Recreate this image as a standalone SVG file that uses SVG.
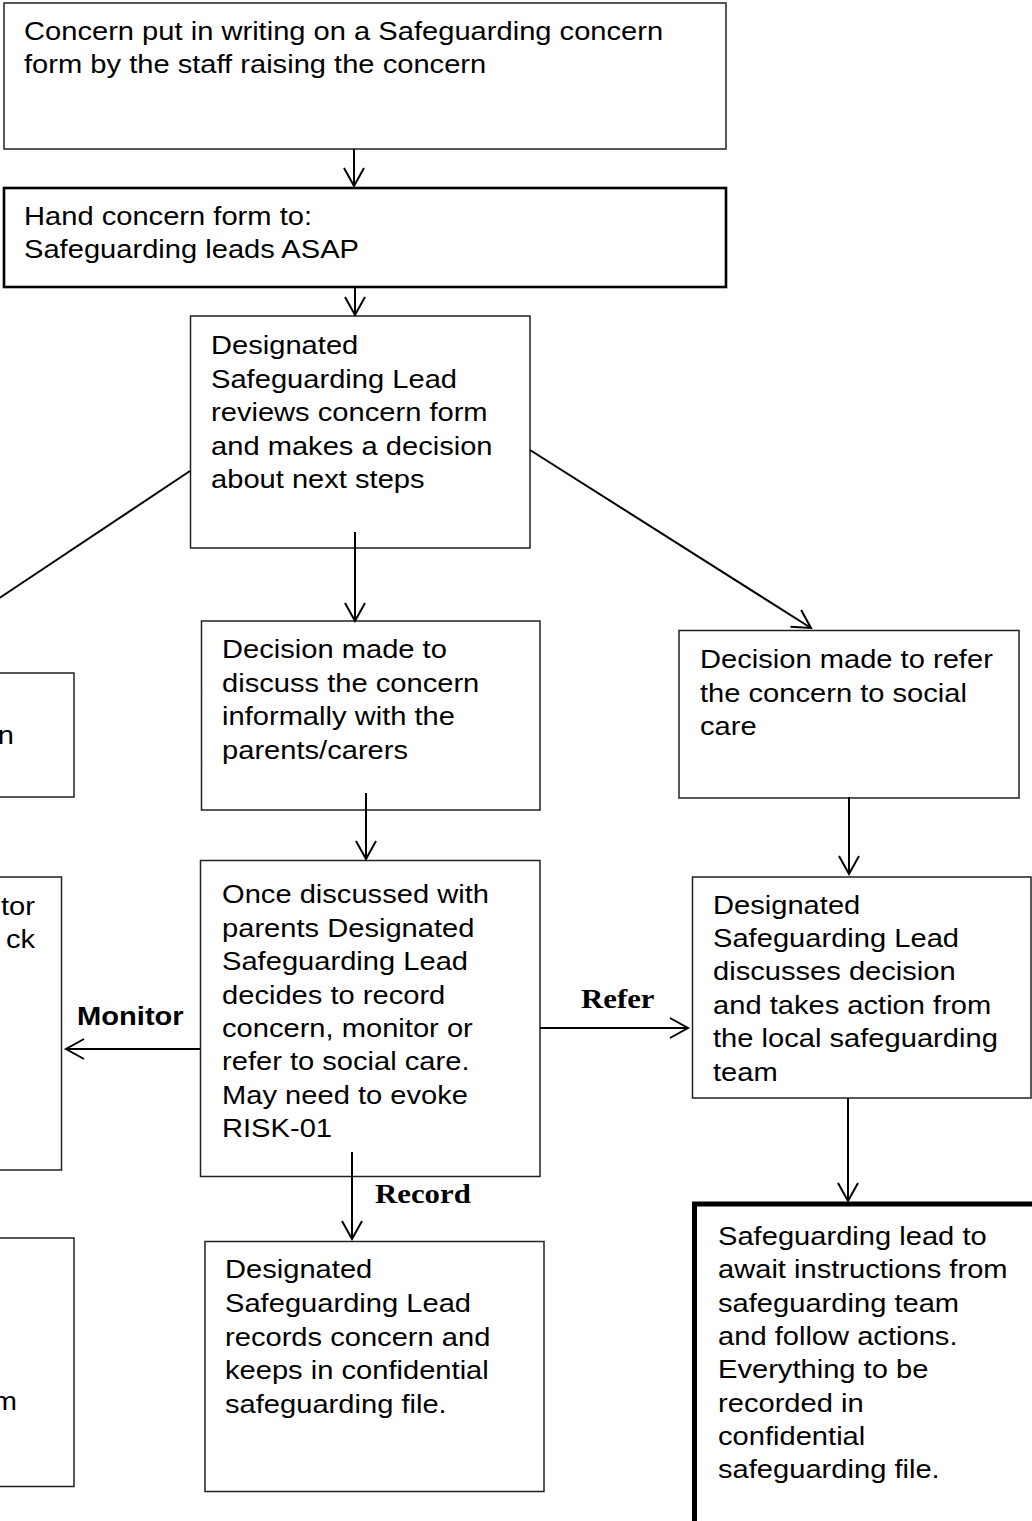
<svg xmlns="http://www.w3.org/2000/svg" width="1032" height="1521" viewBox="0 0 1032 1521">
<style>
.box{fill:#fff;stroke:#222;stroke-width:1.5}
.thick2{stroke-width:2.6;stroke:#000}
.thick5{stroke-width:5;stroke:#000}
.t{font-family:"Liberation Sans",Arial,sans-serif;font-size:26px;fill:#000}
.lb{font-family:"Liberation Sans",Arial,sans-serif;font-size:26px;font-weight:bold;fill:#000}
.ls{font-family:"Liberation Serif","Times New Roman",serif;font-size:27.5px;font-weight:bold;fill:#000}
.c{stroke:#000;stroke-width:2;fill:none}
</style>
<defs>
<marker id="ah" markerUnits="userSpaceOnUse" markerWidth="24" markerHeight="24" viewBox="-20 -12 24 24" refX="0" refY="0" orient="auto">
<path d="M-18,-10 L0,0 L-18,10" fill="none" stroke="#000" stroke-width="2"/>
</marker>
</defs>
<rect width="1032" height="1521" fill="#fff"/>

<g id="n1">
<rect class="box" x="4" y="3" width="722" height="146"/>
<g transform="translate(24,0) scale(1.12,1)"><text class="t"><tspan x="0" y="40">Concern put in writing on a Safeguarding concern</tspan><tspan x="0" y="73">form by the staff raising the concern</tspan></text></g>
</g>

<g id="n2">
<rect class="box thick2" x="4" y="188" width="722" height="99"/>
<g transform="translate(24,0) scale(1.12,1)"><text class="t"><tspan x="0" y="225">Hand concern form to:</tspan><tspan x="0" y="258">Safeguarding leads ASAP</tspan></text></g>
</g>

<g id="n3">
<rect class="box" x="190.5" y="316" width="339.5" height="232"/>
<g transform="translate(211,0) scale(1.12,1)"><text class="t"><tspan x="0" y="354">Designated</tspan><tspan x="0" y="388">Safeguarding Lead</tspan><tspan x="0" y="421">reviews concern form</tspan><tspan x="0" y="455">and makes a decision</tspan><tspan x="0" y="488">about next steps</tspan></text></g>
</g>

<g id="nA">
<rect class="box" x="-10" y="673" width="84" height="124"/>
<g transform="translate(14,0) scale(1.12,1)"><text class="t" text-anchor="end" x="0" y="744">n</text></g>
</g>

<g id="n4">
<rect class="box" x="201.5" y="621" width="338.5" height="189"/>
<g transform="translate(222,0) scale(1.12,1)"><text class="t"><tspan x="0" y="658">Decision made to</tspan><tspan x="0" y="692">discuss the concern</tspan><tspan x="0" y="725">informally with the</tspan><tspan x="0" y="759">parents/carers</tspan></text></g>
</g>

<g id="n5">
<rect class="box" x="679" y="630.5" width="340" height="167.5"/>
<g transform="translate(700,0) scale(1.12,1)"><text class="t"><tspan x="0" y="668">Decision made to refer</tspan><tspan x="0" y="702">the concern to social</tspan><tspan x="0" y="735">care</tspan></text></g>
</g>

<g id="nB">
<rect class="box" x="-10" y="877" width="71.5" height="293"/>
<g transform="translate(35,0) scale(1.12,1)"><text class="t" text-anchor="end"><tspan x="0" y="915">tor</tspan><tspan x="0" y="948">ck</tspan></text></g>
</g>

<g id="n6">
<rect class="box" x="200.5" y="860.5" width="339.5" height="316"/>
<g transform="translate(222,0) scale(1.12,1)"><text class="t"><tspan x="0" y="903">Once discussed with</tspan><tspan x="0" y="937">parents Designated</tspan><tspan x="0" y="970">Safeguarding Lead</tspan><tspan x="0" y="1004">decides to record</tspan><tspan x="0" y="1037">concern, monitor or</tspan><tspan x="0" y="1070">refer to social care.</tspan><tspan x="0" y="1104">May need to evoke</tspan><tspan x="0" y="1137">RISK-01</tspan></text></g>
</g>

<g id="n7">
<rect class="box" x="692.5" y="877" width="338.5" height="221"/>
<g transform="translate(713,0) scale(1.12,1)"><text class="t"><tspan x="0" y="914">Designated</tspan><tspan x="0" y="947">Safeguarding Lead</tspan><tspan x="0" y="980">discusses decision</tspan><tspan x="0" y="1014">and takes action from</tspan><tspan x="0" y="1047">the local safeguarding</tspan><tspan x="0" y="1081">team</tspan></text></g>
</g>

<g id="nC">
<rect class="box" x="-10" y="1238" width="84" height="248.5"/>
<g transform="translate(17,0) scale(1.12,1)"><text class="t" text-anchor="end" x="0" y="1410">m</text></g>
</g>

<g id="n8">
<rect class="box" x="205" y="1241.5" width="339" height="250"/>
<g transform="translate(225,0) scale(1.12,1)"><text class="t"><tspan x="0" y="1278">Designated</tspan><tspan x="0" y="1312">Safeguarding Lead</tspan><tspan x="0" y="1346">records concern and</tspan><tspan x="0" y="1379">keeps in confidential</tspan><tspan x="0" y="1413">safeguarding file.</tspan></text></g>
</g>

<g id="n9">
<rect class="box thick5" x="694.5" y="1204" width="350" height="322"/>
<g transform="translate(718,0) scale(1.12,1)"><text class="t"><tspan x="0" y="1245">Safeguarding lead to</tspan><tspan x="0" y="1278">await instructions from</tspan><tspan x="0" y="1312">safeguarding team</tspan><tspan x="0" y="1345">and follow actions.</tspan><tspan x="0" y="1378">Everything to be</tspan><tspan x="0" y="1412">recorded in</tspan><tspan x="0" y="1445">confidential</tspan><tspan x="0" y="1478">safeguarding file.</tspan></text></g>
</g>

<g id="connectors">
<line class="c" x1="354" y1="149" x2="354" y2="186" marker-end="url(#ah)"/>
<line class="c" x1="355" y1="287" x2="355" y2="315" marker-end="url(#ah)"/>
<line class="c" x1="190" y1="471" x2="-20" y2="611"/>
<line class="c" x1="530" y1="450" x2="811" y2="628" marker-end="url(#ah)"/>
<line class="c" x1="355" y1="532" x2="355" y2="621" marker-end="url(#ah)"/>
<line class="c" x1="366" y1="793" x2="366" y2="859" marker-end="url(#ah)"/>
<line class="c" x1="849" y1="797" x2="849" y2="874" marker-end="url(#ah)"/>
<line class="c" x1="200" y1="1049" x2="66" y2="1049" marker-end="url(#ah)"/>
<line class="c" x1="540" y1="1028" x2="688" y2="1028" marker-end="url(#ah)"/>
<line class="c" x1="352" y1="1152" x2="352" y2="1239" marker-end="url(#ah)"/>
<line class="c" x1="848" y1="1098" x2="848" y2="1201" marker-end="url(#ah)"/>
<g transform="translate(77,0) scale(1.12,1)"><text class="lb" x="0" y="1025">Monitor</text></g>
<g transform="translate(581,0) scale(1.12,1)"><text class="ls" x="0" y="1008">Refer</text></g>
<g transform="translate(375,0) scale(1.12,1)"><text class="ls" x="0" y="1203">Record</text></g>
</g>
</svg>
